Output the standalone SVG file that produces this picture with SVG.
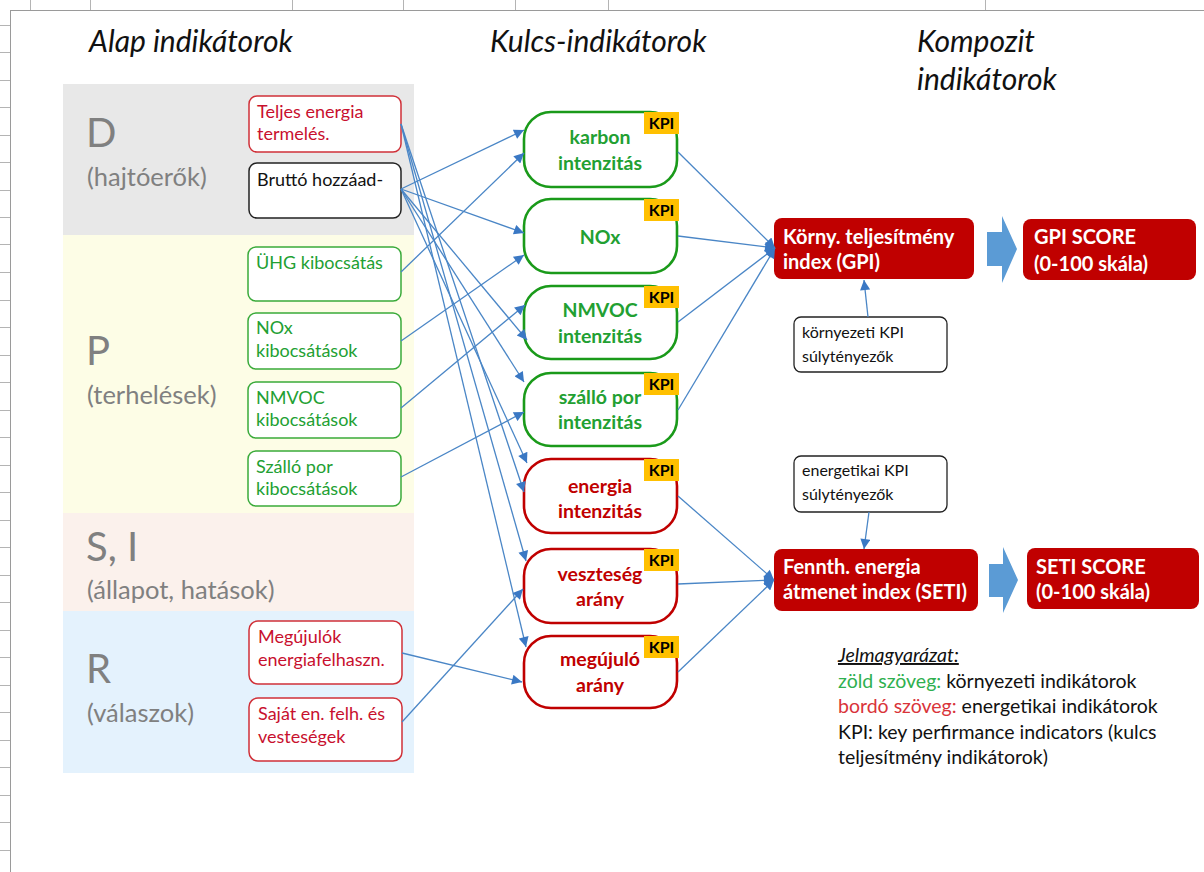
<svg xmlns="http://www.w3.org/2000/svg" width="1204" height="872" viewBox="0 0 1204 872">
<style>
text{font-family:Lato,"Open Sans","Liberation Sans",sans-serif}
.hdr{font-size:30px;font-style:italic;fill:#111}
.big{font-size:40px;fill:#808080}
.sub{font-size:25.5px;fill:#808080}
.lb{fill:#fff;stroke-width:1.5}
.lt{font-size:18px}
.g{fill:#22a032}
.r{fill:#c8102e}
.k{fill:#111}
.gs{stroke:#3aaa3a}
.rs{stroke:#d03038}
.ks{stroke:#222}
.kpi{fill:#fff;stroke-width:2.6}
.kg{stroke:#1a9a1a}
.kr{stroke:#c00000}
.kt{font-size:19.5px;font-weight:bold;text-anchor:middle}
.badge{fill:#ffc000}
.bt{font-size:16px;font-weight:bold;fill:#000;text-anchor:middle}
.dr{fill:#c00000}
.wt{font-size:20px;font-weight:bold;fill:#fff}
.wb{fill:#fff;stroke:#222;stroke-width:1.3}
.st{font-size:16px;fill:#111}
.blk{fill:#5b9bd5}
.con line{stroke:#4a86c6;stroke-width:1.3;fill:none;marker-end:url(#ah)}
.leg{font-size:19.5px;fill:#111}
.grid{stroke:#b4b4b4;stroke-width:1}
</style>
<defs>
<marker id="ah" viewBox="0 0 10 10" refX="10" refY="5" markerUnits="userSpaceOnUse" markerWidth="12" markerHeight="10" orient="auto">
<path d="M0,0 L10,5 L0,10 z" fill="#3a78c4"/>
</marker>
</defs>
<rect width="1204" height="872" fill="#fff"/>
<g id="grid" class="grid">
<line x1="10" y1="10.5" x2="1204" y2="10.5" stroke="#9a9a9a"/>
<line x1="10.5" y1="10" x2="10.5" y2="872" stroke="#9a9a9a"/>
<line x1="30.5" y1="0" x2="30.5" y2="10"/><line x1="90.5" y1="0" x2="90.5" y2="10"/><line x1="292.5" y1="0" x2="292.5" y2="10"/><line x1="403.5" y1="0" x2="403.5" y2="10"/><line x1="515.5" y1="0" x2="515.5" y2="10"/><line x1="608.5" y1="0" x2="608.5" y2="10"/><line x1="985.5" y1="0" x2="985.5" y2="10"/>
<line x1="0" y1="25.5" x2="10" y2="25.5"/><line x1="0" y1="52.5" x2="10" y2="52.5"/><line x1="0" y1="80.5" x2="10" y2="80.5"/><line x1="0" y1="107.5" x2="10" y2="107.5"/><line x1="0" y1="135.5" x2="10" y2="135.5"/><line x1="0" y1="162.5" x2="10" y2="162.5"/><line x1="0" y1="190.5" x2="10" y2="190.5"/><line x1="0" y1="217.5" x2="10" y2="217.5"/><line x1="0" y1="244.5" x2="10" y2="244.5"/><line x1="0" y1="272.5" x2="10" y2="272.5"/><line x1="0" y1="300.5" x2="10" y2="300.5"/><line x1="0" y1="327.5" x2="10" y2="327.5"/><line x1="0" y1="355.5" x2="10" y2="355.5"/><line x1="0" y1="382.5" x2="10" y2="382.5"/><line x1="0" y1="410.5" x2="10" y2="410.5"/><line x1="0" y1="437.5" x2="10" y2="437.5"/><line x1="0" y1="465.5" x2="10" y2="465.5"/><line x1="0" y1="492.5" x2="10" y2="492.5"/><line x1="0" y1="520.5" x2="10" y2="520.5"/><line x1="0" y1="547.5" x2="10" y2="547.5"/><line x1="0" y1="575.5" x2="10" y2="575.5"/><line x1="0" y1="602.5" x2="10" y2="602.5"/><line x1="0" y1="630.5" x2="10" y2="630.5"/><line x1="0" y1="657.5" x2="10" y2="657.5"/><line x1="0" y1="685.5" x2="10" y2="685.5"/><line x1="0" y1="712.5" x2="10" y2="712.5"/><line x1="0" y1="740.5" x2="10" y2="740.5"/><line x1="0" y1="767.5" x2="10" y2="767.5"/><line x1="0" y1="795.5" x2="10" y2="795.5"/><line x1="0" y1="822.5" x2="10" y2="822.5"/><line x1="0" y1="850.5" x2="10" y2="850.5"/>
</g>
<g id="headers">
<text class="hdr" x="89" y="52">Alap indikátorok</text>
<text class="hdr" x="490" y="52">Kulcs-indikátorok</text>
<text class="hdr" x="917" y="52">Kompozit</text>
<text class="hdr" x="917" y="90">indikátorok</text>
</g>
<g id="band-D">
<rect x="63" y="84" width="351" height="151" fill="#e8e8e8"/>
<text class="big" x="86" y="147">D</text>
<text class="sub" x="87" y="186">(hajtóerők)</text>
</g>
<g id="band-P">
<rect x="63" y="235" width="351" height="278" fill="#fdfde6"/>
<text class="big" x="86" y="365">P</text>
<text class="sub" x="87" y="404">(terhelések)</text>
</g>
<g id="band-SI">
<rect x="63" y="513" width="351" height="98" fill="#fbf1ec"/>
<text class="big" x="86" y="561">S, I</text>
<text class="sub" x="87" y="599">(állapot, hatások)</text>
</g>
<g id="band-R">
<rect x="63" y="611" width="351" height="162" fill="#e4f2fd"/>
<text class="big" x="86" y="683">R</text>
<text class="sub" x="87" y="722">(válaszok)</text>
</g>
<g id="n-teljes"><rect class="lb rs" x="249" y="96" width="152" height="56" rx="8"/><text class="lt r" x="257" y="118">Teljes energia</text><text class="lt r" x="257" y="140">termelés.</text></g>
<g id="n-brutto"><rect class="lb ks" x="249" y="163" width="152" height="55" rx="8"/><text class="lt k" x="257" y="186">Bruttó hozzáad-</text></g>
<g id="n-uhg"><rect class="lb gs" x="248" y="247" width="153" height="54" rx="8"/><text class="lt g" x="256" y="269">ÜHG kibocsátás</text></g>
<g id="n-nox"><rect class="lb gs" x="248" y="313" width="153" height="56" rx="8"/><text class="lt g" x="256" y="334">NOx</text><text class="lt g" x="256" y="357">kibocsátások</text></g>
<g id="n-nmvoc"><rect class="lb gs" x="248" y="382" width="153" height="56" rx="8"/><text class="lt g" x="256" y="404">NMVOC</text><text class="lt g" x="256" y="426">kibocsátások</text></g>
<g id="n-szallo"><rect class="lb gs" x="248" y="451" width="153" height="55" rx="8"/><text class="lt g" x="256" y="473">Szálló por</text><text class="lt g" x="256" y="495">kibocsátások</text></g>
<g id="n-megujulok"><rect class="lb rs" x="249" y="621" width="153" height="63" rx="9"/><text class="lt r" x="258" y="643">Megújulók</text><text class="lt r" x="258" y="666">energiafelhaszn.</text></g>
<g id="n-sajat"><rect class="lb rs" x="249" y="698" width="153" height="63" rx="9"/><text class="lt r" x="258" y="720">Saját en. felh. és</text><text class="lt r" x="258" y="743">vesteségek</text></g>
<g id="k-karbon"><rect class="kpi kg" x="524" y="112" width="153" height="75" rx="27"/><rect class="badge" x="644" y="112" width="35" height="22"/><text class="bt" x="661.5" y="129">KPI</text><text class="kt g" x="600" y="144">karbon</text><text class="kt g" x="600" y="170">intenzitás</text></g>
<g id="k-nox"><rect class="kpi kg" x="524" y="199" width="153" height="74" rx="27"/><rect class="badge" x="644" y="199" width="35" height="22"/><text class="bt" x="661.5" y="216">KPI</text><text class="kt g" x="600" y="244">NOx</text></g>
<g id="k-nmvoc"><rect class="kpi kg" x="524" y="286" width="153" height="73" rx="27"/><rect class="badge" x="644" y="286" width="35" height="22"/><text class="bt" x="661.5" y="303">KPI</text><text class="kt g" x="600" y="317">NMVOC</text><text class="kt g" x="600" y="343">intenzitás</text></g>
<g id="k-szallo"><rect class="kpi kg" x="524" y="373" width="153" height="73" rx="27"/><rect class="badge" x="644" y="373" width="35" height="22"/><text class="bt" x="661.5" y="390">KPI</text><text class="kt g" x="600" y="404">szálló por</text><text class="kt g" x="600" y="429">intenzitás</text></g>
<g id="k-energia"><rect class="kpi kr" x="524" y="459" width="153" height="74" rx="27"/><rect class="badge" x="644" y="459" width="35" height="22"/><text class="bt" x="661.5" y="476">KPI</text><text class="kt dr" x="600" y="493">energia</text><text class="kt dr" x="600" y="518">intenzitás</text></g>
<g id="k-veszteseg"><rect class="kpi kr" x="524" y="549" width="153" height="74" rx="27"/><rect class="badge" x="644" y="549" width="35" height="22"/><text class="bt" x="661.5" y="566">KPI</text><text class="kt dr" x="600" y="581">veszteség</text><text class="kt dr" x="600" y="606">arány</text></g>
<g id="k-megujulo"><rect class="kpi kr" x="524" y="636" width="153" height="72" rx="27"/><rect class="badge" x="644" y="636" width="35" height="22"/><text class="bt" x="661.5" y="653">KPI</text><text class="kt dr" x="600" y="666">megújuló</text><text class="kt dr" x="600" y="692">arány</text></g>
<g id="c-gpi"><rect class="dr" x="774" y="218" width="200" height="61" rx="8"/><text class="wt" x="783" y="244">Körny. teljesítmény</text><text class="wt" x="783" y="269">index (GPI)</text></g>
<g id="a-gpi"><path class="blk" d="M987,232 H1002 V216 L1017,249 L1002,283 V266 H987 z"/></g>
<g id="s-gpi"><rect class="dr" x="1023" y="219" width="173" height="61" rx="8"/><text class="wt" x="1034" y="244">GPI SCORE</text><text class="wt" x="1034" y="271">(0-100 skála)</text></g>
<g id="w-korny"><rect class="wb" x="794" y="317" width="153" height="55" rx="7"/><text class="st" x="802" y="338">környezeti KPI</text><text class="st" x="802" y="362">súlytényezők</text></g>
<g id="w-energ"><rect class="wb" x="794" y="456" width="153" height="56" rx="7"/><text class="st" x="802" y="476">energetikai KPI</text><text class="st" x="802" y="500">súlytényezők</text></g>
<g id="c-seti"><rect class="dr" x="774" y="549" width="204" height="62" rx="8"/><text class="wt" x="783" y="574">Fennth. energia</text><text class="wt" x="783" y="599">átmenet index (SETI)</text></g>
<g id="a-seti"><path class="blk" d="M989,564 H1003 V547 L1018,580 L1003,613 V597 H989 z"/></g>
<g id="s-seti"><rect class="dr" x="1027" y="548" width="172" height="61" rx="8"/><text class="wt" x="1036" y="574">SETI SCORE</text><text class="wt" x="1036" y="599">(0-100 skála)</text></g>
<g id="connectors" class="con">
<line x1="401" y1="189" x2="524" y2="130"/>
<line x1="401" y1="189" x2="524" y2="233"/>
<line x1="401" y1="189" x2="527" y2="340"/>
<line x1="401" y1="189" x2="524" y2="382"/>
<line x1="401" y1="189" x2="527" y2="463"/>
<line x1="401" y1="124" x2="524" y2="492"/>
<line x1="401" y1="124" x2="526" y2="561"/>
<line x1="401" y1="124" x2="526" y2="647"/>
<line x1="401" y1="272" x2="524" y2="153"/>
<line x1="401" y1="341" x2="524" y2="255"/>
<line x1="401" y1="408" x2="525" y2="305"/>
<line x1="401" y1="477" x2="524" y2="412"/>
<line x1="402" y1="653" x2="522" y2="682"/>
<line x1="402" y1="722" x2="523" y2="589"/>
<line x1="678" y1="152" x2="775" y2="248"/>
<line x1="678" y1="236" x2="775" y2="248"/>
<line x1="678" y1="322" x2="775" y2="248"/>
<line x1="678" y1="410" x2="775" y2="248"/>
<line x1="678" y1="496" x2="774" y2="580"/>
<line x1="678" y1="584" x2="774" y2="580"/>
<line x1="678" y1="672" x2="774" y2="580"/>
<line x1="868" y1="317" x2="864" y2="280"/>
<line x1="869" y1="512" x2="864" y2="549"/>
</g>
<g id="legend">
<text class="leg" x="838" y="662" font-style="italic" text-decoration="underline">Jelmagyarázat:</text>
<text class="leg" x="838" y="688"><tspan fill="#2fb050">zöld szöveg:</tspan> környezeti indikátorok</text>
<text class="leg" x="838" y="713"><tspan fill="#d9343a">bordó szöveg:</tspan> energetikai indikátorok</text>
<text class="leg" x="838" y="739">KPI: key perfirmance indicators (kulcs</text>
<text class="leg" x="838" y="764">teljesítmény indikátorok)</text>
</g>
</svg>
